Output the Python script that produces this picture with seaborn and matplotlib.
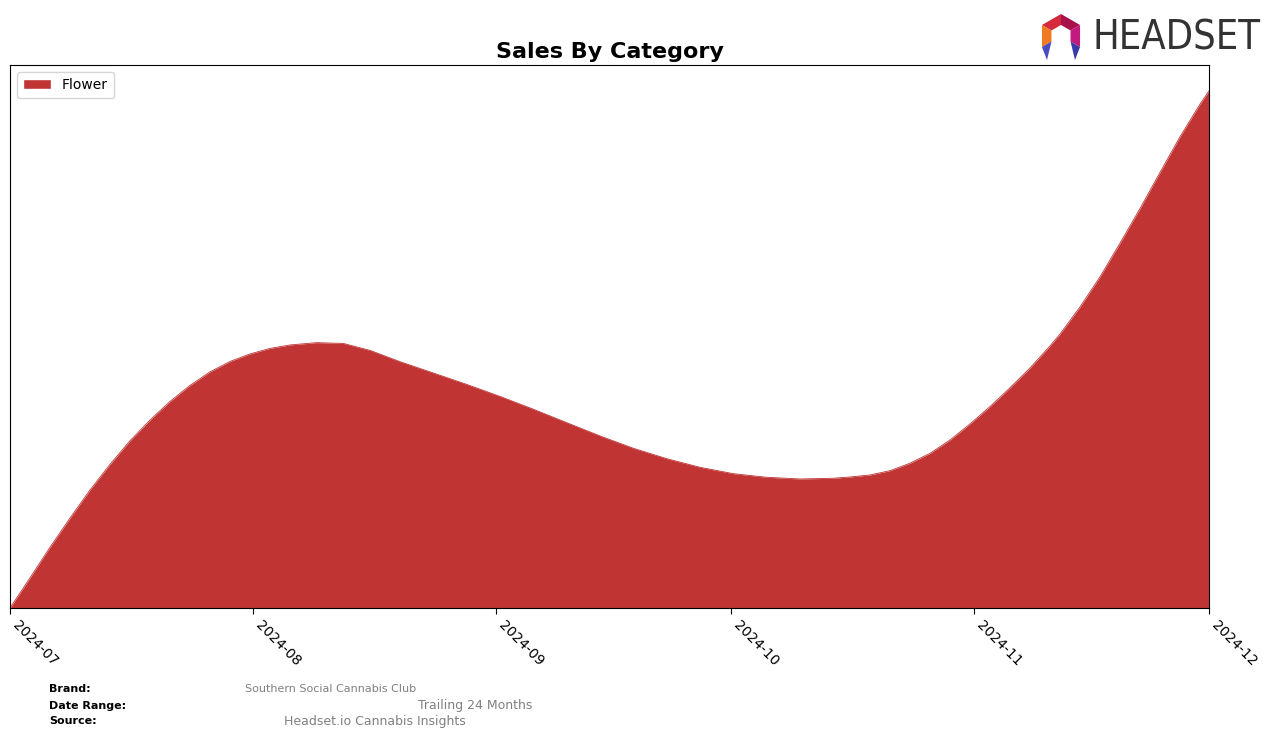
import matplotlib
matplotlib.use("Agg")
import matplotlib.pyplot as plt
import matplotlib.dates as mdates
from matplotlib.patches import Polygon, Patch
import numpy as np
import pandas as pd
import seaborn as sns

# ---- data ----
dates = ["2024-07-01 00:00", "2024-07-03 13:00", "2024-07-06 02:00", "2024-07-08 16:00",
         "2024-07-11 05:00", "2024-07-13 18:00", "2024-07-16 07:00", "2024-07-18 21:00",
         "2024-07-21 10:00", "2024-07-23 23:00", "2024-07-26 12:00", "2024-07-29 02:00",
         "2024-07-31 15:00", "2024-08-03 04:00", "2024-08-05 18:00", "2024-08-09 03:00",
         "2024-08-12 13:00", "2024-08-15 23:00", "2024-08-19 18:00", "2024-08-24 00:00",
         "2024-08-28 07:00", "2024-09-01 13:00", "2024-09-05 19:00", "2024-09-10 01:00",
         "2024-09-14 07:00", "2024-09-18 13:00", "2024-09-22 19:00", "2024-09-27 01:00",
         "2024-10-01 07:00", "2024-10-05 13:00", "2024-10-09 19:00", "2024-10-14 01:00",
         "2024-10-16 05:00", "2024-10-18 18:00", "2024-10-21 07:00", "2024-10-23 20:00",
         "2024-10-26 10:00", "2024-10-28 23:00", "2024-10-31 12:00", "2024-11-03 01:00",
         "2024-11-05 14:00", "2024-11-08 04:00", "2024-11-10 17:00", "2024-11-12 00:00",
         "2024-11-14 13:00", "2024-11-17 02:00", "2024-11-19 15:00", "2024-11-22 05:00",
         "2024-11-24 18:00", "2024-11-27 07:00", "2024-11-29 20:00", "2024-12-01 00:00"]
flower = [0, 30, 60.5, 90,
          118, 143.5, 167, 188,
          206.5, 222.5, 236, 246.5,
          254, 259.5, 263, 265.3,
          264.5, 257.5, 246.3, 235,
          223.5, 211.5, 198.7, 185.3,
          172, 159.7, 149.3, 140.7,
          134.3, 130.7, 129, 129.7,
          131, 133, 137.3, 144.7,
          154.7, 168, 184, 201.3,
          220, 240, 262, 274,
          301, 331, 364.5, 399.5,
          435.5, 471, 503.5, 517]
category = "Flower"
title = "Sales By Category"
brand = "Southern Social Cannabis Club"
date_range = "Trailing 24 Months"
source = "Headset.io Cannabis Insights"
logo_text = "HEADSET"
color = "#C13434"

df = pd.DataFrame({"date": pd.to_datetime(dates), "sales": flower})

sns.set_style("white")
plt.rcParams["font.family"] = ["DejaVu Sans"]
plt.rcParams["text.color"] = "black"
plt.rcParams["xtick.color"] = "black"
plt.rcParams["axes.labelcolor"] = "black"

W, H = 1276, 738
fig = plt.figure(figsize=(W / 100, H / 100), dpi=100)
ax = fig.add_axes([10 / W, 1 - 608 / H, (1209 - 10) / W, (608 - 65) / H])

sns.lineplot(data=df, x="date", y="sales", ax=ax, color=color, linewidth=0.6)
ax.fill_between(df["date"], 0, df["sales"], color=color, linewidth=0)

ax.set_xlim(df["date"].iloc[0], df["date"].iloc[-1])
ax.set_ylim(0, max(flower) * 1.05)
ax.set_xlabel("")
ax.set_ylabel("")
ax.set_yticks([])
ax.xaxis.set_major_locator(mdates.MonthLocator())
ax.xaxis.set_major_formatter(mdates.DateFormatter("%Y-%m"))
ax.tick_params(axis="x", bottom=True, length=4, width=0.8, color="black",
               labelcolor="black", labelsize=10, pad=3)
for lbl in ax.get_xticklabels():
    lbl.set_rotation(-45)
    lbl.set_ha("left")
    lbl.set_va("top")
    lbl.set_rotation_mode("default")
for s in ax.spines.values():
    s.set_color("black")
    s.set_linewidth(0.8)

ax.set_title(title, fontsize=16, fontweight="bold", pad=5, color="black")
leg = ax.legend(handles=[Patch(facecolor=color, label=category)], loc="upper left",
                fontsize=10, frameon=True, handlelength=2, borderpad=0.45)
for t in leg.get_texts():
    t.set_color("black")

# ---- footer ----
def fx(px):
    return px / W

def fy(py):
    return 1 - py / H

fig.text(fx(49), fy(689), "Brand:", fontsize=8, fontweight="bold", va="center")
fig.text(fx(245), fy(689), brand, fontsize=8, color="gray", va="center")
fig.text(fx(49), fy(706), "Date Range:", fontsize=8, fontweight="bold", va="center")
fig.text(fx(418), fy(706), date_range, fontsize=9, color="gray", va="center")
fig.text(fx(49), fy(721), "Source:", fontsize=8, fontweight="bold", va="center")
fig.text(fx(284), fy(721), source, fontsize=9, color="gray", va="center")

# ---- logo ----
cx, cy = 1061, 36
R, r = 22, 11
def hexpt(rad, ang):
    a = np.deg2rad(ang)
    return (fx(cx + rad * np.cos(a)), fy(cy - rad * np.sin(a)))

segs = [(90, 150, "#D42A3C"), (30, 90, "#A8124A"), (150, 210, "#F07A22"),
        (-30, 30, "#C21A7E")]
for a0, a1, c in segs:
    pts = [hexpt(R, a0), hexpt(R, a1), hexpt(r, a1), hexpt(r, a0)]
    fig.patches.append(Polygon(pts, closed=True, facecolor=c, edgecolor="none",
                               transform=fig.transFigure, figure=fig))
feet = [(210, "#4B4BC0", -1), (-30, "#3A3AA8", 1)]
for ang, c, sgn in feet:
    o = hexpt(R, ang)
    i = hexpt(r, ang)
    tip = (fx(cx + sgn * 14), fy(cy + 24))
    fig.patches.append(Polygon([o, i, tip], closed=True, facecolor=c,
                               edgecolor="none", transform=fig.transFigure,
                               figure=fig))
logo = fig.text(fx(1092), fy(38), logo_text, fontsize=30, color="#333333",
                va="center", ha="left", family="DejaVu Sans",
                fontstretch="condensed")
fig.canvas.draw()
bb = logo.get_window_extent()
logo.set_fontsize(30 * 168.0 / bb.width)

fig.savefig("out.png", dpi=100)
